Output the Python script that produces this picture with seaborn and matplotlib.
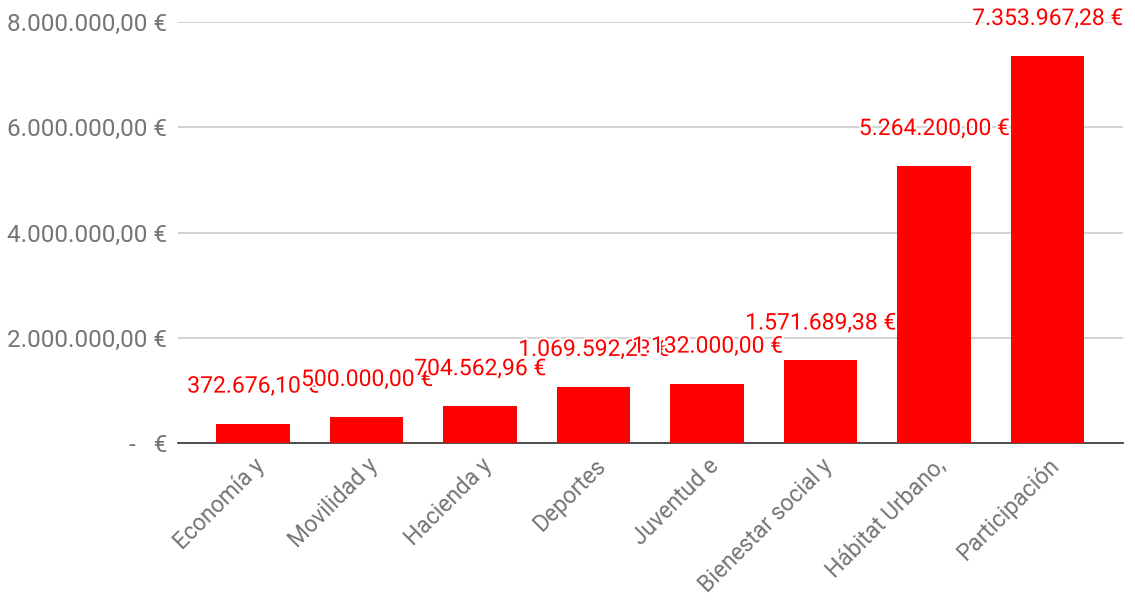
import pandas as pd
import matplotlib
matplotlib.use('Agg')
import matplotlib.pyplot as plt
import matplotlib.patheffects as pe
import seaborn as sns

categorias = ['Economía y', 'Movilidad y', 'Hacienda y', 'Deportes', 'Juventud e',
              'Bienestar social y', 'Hábitat Urbano,', 'Participación']
importes = [372676.10, 500000.00, 704562.96, 1069592.23, 1132000.00,
            1571689.38, 5264200.00, 7353967.28]
ticks_y = [0, 2000000, 4000000, 6000000, 8000000]

df = pd.DataFrame({'Area': categorias, 'Importe': importes})


def euros(v):
    if v == 0:
        return '-   €'
    s = f'{v:,.2f}'
    s = s.replace(',', 'X').replace('.', ',').replace('X', '.')
    return s + ' €'


sns.set_style('white')
plt.rcParams['font.family'] = ['Roboto', 'DejaVu Sans']

fig, ax = plt.subplots(figsize=(11.35, 6.08), dpi=100)
fig.subplots_adjust(left=0.157, right=0.989, top=0.964, bottom=0.271)

sns.barplot(data=df, x='Area', y='Importe', color='#ff0000', saturation=1,
            width=0.65, linewidth=0, ax=ax, zorder=3)

ax.set_ylim(0, 8000000)
ax.set_xlim(-0.66, 7.66)
ax.set_yticks(ticks_y)
ax.set_yticklabels([euros(v) for v in ticks_y])
ax.yaxis.grid(True, color='#cccccc', linewidth=1.2, zorder=0)
ax.set_axisbelow(True)
ax.set_xlabel('')
ax.set_ylabel('')
for s in ['top', 'right', 'left']:
    ax.spines[s].set_visible(False)
ax.spines['bottom'].set_color('#333333')
ax.spines['bottom'].set_linewidth(1.2)
ax.tick_params(axis='x', length=0, labelsize=16.5, colors='#757575', pad=8)
ax.tick_params(axis='y', length=0, labelsize=17.5, colors='#757575', pad=8)
plt.setp(ax.get_xticklabels(), rotation=45, ha='right', rotation_mode='anchor')

# etiquetas de valor
for i, v in enumerate(importes):
    ax.annotate(euros(v), (i, v), xytext=(0, 27), textcoords='offset points',
                ha='center', va='center', color='#ff0000', fontsize=16.5, zorder=5,
                path_effects=[pe.withStroke(linewidth=3, foreground='white')])

plt.savefig('out.png', dpi=100)
